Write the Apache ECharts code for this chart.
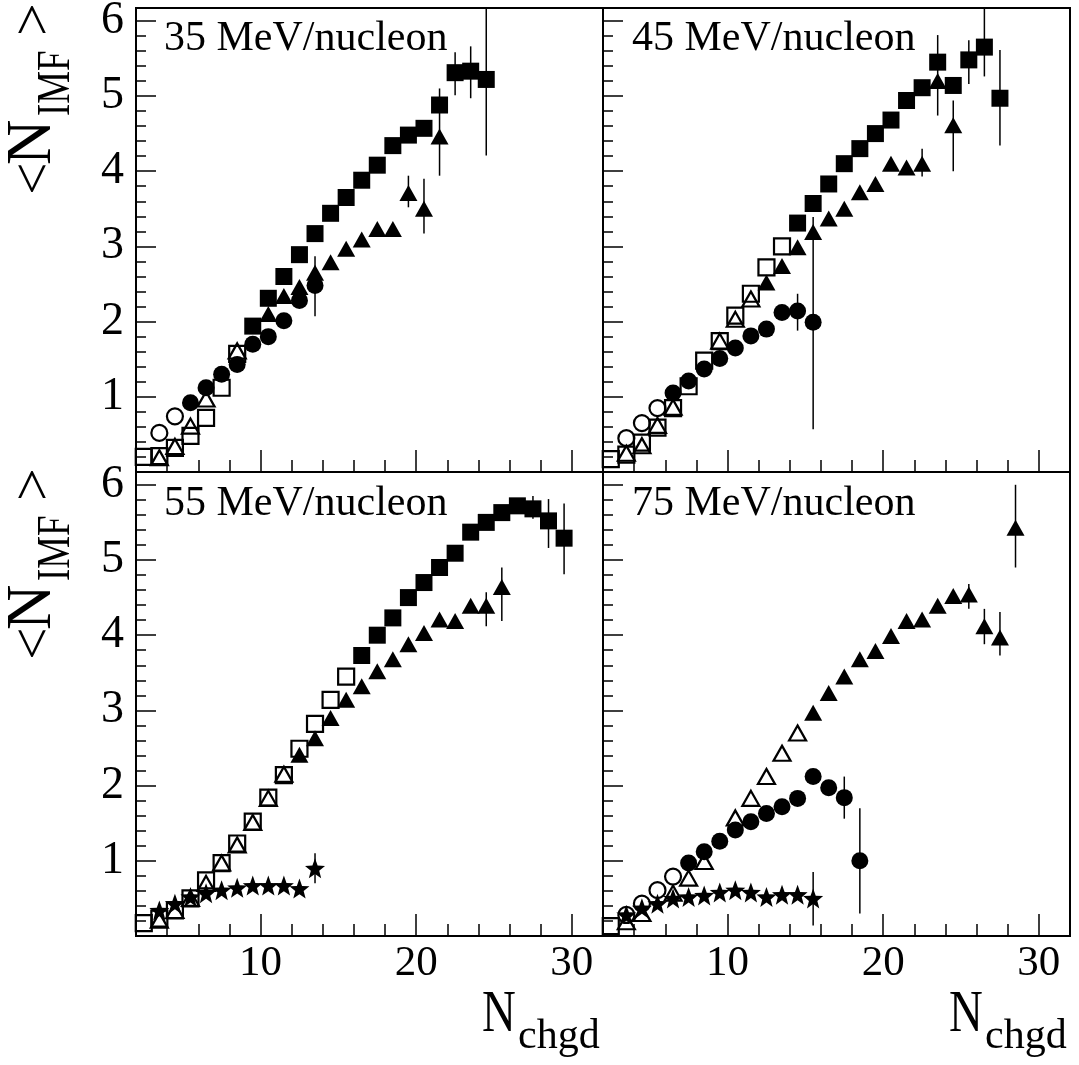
<!DOCTYPE html>
<html><head><meta charset="utf-8">
<script src="https://cdn.jsdelivr.net/npm/echarts@6/dist/echarts.min.js"></script>
<style>html,body{margin:0;padding:0;background:#fff}#c{width:1079px;height:1065px}</style>
</head><body><div id="c"></div>
<script>
// ---------------- DATA ----------------
const panelLabels = ['35 MeV/nucleon', '45 MeV/nucleon', '55 MeV/nucleon', '75 MeV/nucleon'];
const xTickLabels = [10, 20, 30];
const xMinorTicks = [4, 6, 8, 12, 14, 16, 18, 22, 24, 26, 28];
const yTickLabels = [1, 2, 3, 4, 5, 6];
const yMinorTicks = [0.2,0.4,0.6,0.8,1.2,1.4,1.6,1.8,2.2,2.4,2.6,2.8,3.2,3.4,3.6,3.8,4.2,4.4,4.6,4.8,5.2,5.4,5.6,5.8];

// 35 MeV/nucleon
const sq35Filled = [[9.5,1.94],[10.5,2.31],[11.5,2.60],[12.5,2.89],[13.5,3.17],[14.5,3.44],[15.5,3.65],[16.5,3.88],[17.5,4.08],[18.5,4.34],[19.5,4.48],[20.5,4.57],[21.5,4.88],[22.5,5.31],[23.5,5.33],[24.5,5.22]];
const sq35Open = [[2.5,0.20],[3.5,0.21],[4.5,0.32],[5.5,0.48],[6.5,0.72],[7.5,1.12],[8.5,1.57]];
const tri35Open = [[3.5,0.19],[4.5,0.34],[5.5,0.61],[6.5,0.97],[8.5,1.61]];
const circ35Open = [[3.5,0.52],[4.5,0.74]];
const circ35Filled = [[5.5,0.92],[6.5,1.12],[7.5,1.30],[8.5,1.43],[9.5,1.70],[10.5,1.80],[11.5,2.01],[12.5,2.28],[13.5,2.48]];
const tri35Filled = [[10.5,2.10],[11.5,2.34],[12.5,2.46],[13.5,2.65],[14.5,2.79],[15.5,2.97],[16.5,3.09],[17.5,3.23],[18.5,3.23],[19.5,3.71],[20.5,3.50],[21.5,4.46]];
const err35 = [[13.5,2.07,2.87],[19.5,3.52,3.94],[20.5,3.17,3.90],[21.5,3.94,5.10],[22.5,5.01,5.58],[23.5,4.97,5.66],[24.5,4.21,6.20]];

// 45 MeV/nucleon
const sq45Filled = [[14.5,3.31],[15.5,3.57],[16.5,3.83],[17.5,4.10],[18.5,4.30],[19.5,4.50],[20.5,4.68],[21.5,4.94],[22.5,5.11],[23.5,5.45],[24.5,5.14],[25.5,5.48],[26.5,5.65],[27.5,4.97]];
const sq45Open = [[2.5,0.17],[3.5,0.23],[4.5,0.39],[5.5,0.59],[6.5,0.85],[7.5,1.14],[8.5,1.48],[9.5,1.74],[10.5,2.08],[11.5,2.37],[12.5,2.72],[13.5,3.00]];
const tri45Open = [[3.5,0.25],[4.5,0.35],[5.5,0.62],[6.5,0.86],[9.5,1.74],[10.5,2.03],[11.5,2.30]];
const circ45Open = [[3.5,0.45],[4.5,0.65],[5.5,0.85]];
const circ45Filled = [[6.5,1.05],[7.5,1.21],[8.5,1.37],[9.5,1.51],[10.5,1.65],[11.5,1.81],[12.5,1.90],[13.5,2.12],[14.5,2.14],[15.5,1.99]];
const tri45Filled = [[12.5,2.52],[13.5,2.74],[14.5,2.99],[15.5,3.19],[16.5,3.37],[17.5,3.50],[18.5,3.72],[19.5,3.83],[20.5,4.10],[21.5,4.05],[22.5,4.10],[23.5,5.20],[24.5,4.61]];
const err45 = [[14.5,1.88,2.37],[15.5,0.57,3.39],[22.5,3.93,4.30],[23.5,4.74,5.81],[24.5,4.00,4.94],[25.5,5.16,5.74],[26.5,5.26,6.20],[27.5,4.34,5.61]];

// 55 MeV/nucleon
const sq55Filled = [[16.5,3.73],[17.5,4.00],[18.5,4.23],[19.5,4.50],[20.5,4.70],[21.5,4.90],[22.5,5.09],[23.5,5.37],[24.5,5.50],[25.5,5.63],[26.5,5.72],[27.5,5.68],[28.5,5.52],[29.5,5.29]];
const sq55Open = [[2.5,0.17],[3.5,0.23],[4.5,0.34],[5.5,0.50],[6.5,0.74],[7.5,0.97],[8.5,1.23],[9.5,1.52],[10.5,1.84],[11.5,2.14],[12.5,2.49],[13.5,2.82],[14.5,3.14],[15.5,3.45]];
const tri55Open = [[3.5,0.21],[4.5,0.34],[5.5,0.50],[6.5,0.70],[7.5,0.97],[8.5,1.21],[9.5,1.51],[10.5,1.83],[11.5,2.15]];
const tri55Filled = [[12.5,2.41],[13.5,2.63],[14.5,2.90],[15.5,3.14],[16.5,3.32],[17.5,3.52],[18.5,3.68],[19.5,3.88],[20.5,4.03],[21.5,4.21],[22.5,4.19],[23.5,4.39],[24.5,4.39],[25.5,4.64]];
const star55 = [[3.5,0.34],[4.5,0.43],[5.5,0.52],[6.5,0.57],[7.5,0.61],[8.5,0.64],[9.5,0.67],[10.5,0.67],[11.5,0.67],[12.5,0.63],[13.5,0.90]];
const err55 = [[13.5,0.70,1.10],[23.5,4.30,4.46],[24.5,4.12,4.57],[25.5,4.19,4.90],[27.5,5.55,5.85],[28.5,5.16,5.81],[29.5,4.81,5.75]];

// 75 MeV/nucleon
const sq75Open = [[2.5,0.13]];
const tri75Filled = [[15.5,2.97],[16.5,3.23],[17.5,3.45],[18.5,3.68],[19.5,3.79],[20.5,3.99],[21.5,4.19],[22.5,4.21],[23.5,4.39],[24.5,4.52],[25.5,4.54],[26.5,4.12],[27.5,3.97],[28.5,5.43]];
const tri75Open = [[3.5,0.19],[4.5,0.30],[6.5,0.57],[7.5,0.77],[8.5,0.99],[10.5,1.57],[11.5,1.83],[12.5,2.12],[13.5,2.43],[14.5,2.70]];
const circ75Open = [[3.5,0.28],[4.5,0.43],[5.5,0.61],[6.5,0.79]];
const circ75Filled = [[7.5,0.97],[8.5,1.12],[9.5,1.26],[10.5,1.41],[11.5,1.52],[12.5,1.63],[13.5,1.72],[14.5,1.83],[15.5,2.12],[16.5,1.97],[17.5,1.84],[18.5,1.00]];
const star75 = [[3.5,0.28],[4.5,0.37],[5.5,0.43],[6.5,0.50],[7.5,0.52],[8.5,0.54],[9.5,0.58],[10.5,0.61],[11.5,0.58],[12.5,0.52],[13.5,0.55],[14.5,0.55],[15.5,0.50]];
const err75 = [[15.5,0.14,0.85],[17.5,1.56,2.12],[18.5,0.30,1.70],[25.5,4.35,4.68],[26.5,3.88,4.35],[27.5,3.73,4.31],[28.5,4.90,6.00]];

// ---------------- STYLE / LAYOUT ----------------
const FONT = '"Liberation Serif", "Times New Roman", serif';
const STAR = 'path://M50 0 L62.35 33.01 L97.55 34.55 L69.97 56.49 L79.39 90.45 L50 71 L20.61 90.45 L30.03 56.49 L2.45 34.55 L37.65 33.01 Z';
const gridBoxes = [
  {left:136, top:8, width:467, height:464},
  {left:603, top:8, width:467, height:464},
  {left:136, top:472, width:467, height:464},
  {left:603, top:472, width:467, height:464}
];
const X_MIN = 2, X_MAX = 32, Y_MIN = 0, Y_MAX = 6.17;

const grids = gridBoxes.map(b => Object.assign({show:true, borderColor:'#000', borderWidth:2, backgroundColor:'transparent', outerBoundsMode:'none', containLabel:false}, b));
const xAxes = [], yAxes = [];
gridBoxes.forEach((b, p) => {
  const bottomRow = p >= 2, leftCol = p % 2 === 0;
  xAxes.push({type:'value', gridIndex:p, min:X_MIN, max:X_MAX, position:'bottom',
    axisLine:{show:false}, splitLine:{show:false},
    axisTick:{show:true, inside:true, length:22, customValues:xTickLabels, lineStyle:{color:'#000', width:1.5}},
    axisLabel:{show:bottomRow, customValues:xTickLabels, fontFamily:FONT, fontSize:43, color:'#000', margin:6}});
  xAxes.push({type:'value', gridIndex:p, min:X_MIN, max:X_MAX, position:'bottom',
    axisLine:{show:false}, splitLine:{show:false},
    axisTick:{show:true, inside:true, length:12, customValues:xMinorTicks, lineStyle:{color:'#000', width:1.5}},
    axisLabel:{show:false}});
  yAxes.push({type:'value', gridIndex:p, min:Y_MIN, max:Y_MAX, position:'left',
    axisLine:{show:false}, splitLine:{show:false},
    axisTick:{show:true, inside:true, length:20, customValues:yTickLabels, lineStyle:{color:'#000', width:1.5}},
    axisLabel:{show:leftCol, customValues:yTickLabels, fontFamily:FONT, fontSize:46, color:'#000', margin:12}});
  yAxes.push({type:'value', gridIndex:p, min:Y_MIN, max:Y_MAX, position:'left',
    axisLine:{show:false}, splitLine:{show:false},
    axisTick:{show:true, inside:true, length:10, customValues:yMinorTicks, lineStyle:{color:'#000', width:1.5}},
    axisLabel:{show:false}});
});

const MARK = {
  sqF:  {symbol:'rect', size:17, filled:true},
  sqO:  {symbol:'rect', size:16, filled:false},
  triF: {symbol:'triangle', size:[18,16], filled:true},
  triO: {symbol:'triangle', size:[17,15], filled:false},
  cirF: {symbol:'circle', size:17, filled:true},
  cirO: {symbol:'circle', size:16, filled:false},
  star: {symbol:STAR, size:20, filled:true}
};
const series = [];
function scat(p, data, kind, z) {
  const m = MARK[kind];
  series.push({type:'scatter', xAxisIndex:2*p, yAxisIndex:2*p, data:data, symbol:m.symbol, symbolSize:m.size,
    symbolKeepAspect:false, silent:true, z:z, clip:true,
    itemStyle: m.filled ? {color:'#000', opacity:1} : {color:'rgba(0,0,0,0)', borderColor:'#000', borderWidth:2.2, opacity:1}});
}
function errs(p, data) {
  series.push({type:'custom', xAxisIndex:2*p, yAxisIndex:2*p, data:data, silent:true, z:1, clip:true,
    encode:{x:0, y:[1,2]},
    renderItem:(params, api) => {
      const a = api.coord([api.value(0), api.value(1)]);
      const b = api.coord([api.value(0), api.value(2)]);
      return {type:'line', shape:{x1:a[0], y1:a[1], x2:b[0], y2:b[1]}, style:{stroke:'#000', lineWidth:1.5}};
    }});
}
// panel 0 : 35
errs(0, err35);
scat(0, sq35Open, 'sqO', 2); scat(0, tri35Open, 'triO', 3); scat(0, circ35Open, 'cirO', 3);
scat(0, circ35Filled, 'cirF', 4); scat(0, tri35Filled, 'triF', 5); scat(0, sq35Filled, 'sqF', 6);
// panel 1 : 45
errs(1, err45);
scat(1, sq45Open, 'sqO', 2); scat(1, tri45Open, 'triO', 3); scat(1, circ45Open, 'cirO', 3);
scat(1, circ45Filled, 'cirF', 4); scat(1, tri45Filled, 'triF', 5); scat(1, sq45Filled, 'sqF', 6);
// panel 2 : 55
errs(2, err55);
scat(2, sq55Open, 'sqO', 2); scat(2, tri55Open, 'triO', 3);
scat(2, tri55Filled, 'triF', 5); scat(2, sq55Filled, 'sqF', 6); scat(2, star55, 'star', 7);
// panel 3 : 75
errs(3, err75);
scat(3, sq75Open, 'sqO', 2); scat(3, tri75Open, 'triO', 3); scat(3, circ75Open, 'cirO', 3);
scat(3, circ75Filled, 'cirF', 4); scat(3, tri75Filled, 'triF', 5); scat(3, star75, 'star', 7);

// ---------------- TEXT ----------------
const MID = 0.3375; // canvas 'middle' offset above baseline (em)
function txt(x, baseline, text, size, extra) {
  return Object.assign({type:'text', x:x, y:baseline - MID*size,
    style:{text:text, fontFamily:FONT, fontSize:size, fill:'#000', textAlign:'left', textVerticalAlign:'middle', verticalAlign:'middle'}}, extra || {});
}
const graphics = [];
const labelPos = [[164,53],[632,53],[164,518],[632,518]];
panelLabels.forEach((t, i) => graphics.push(txt(labelPos[i][0], labelPos[i][1], t, 42)));
// y titles (rotated)
[195, 660].forEach(y0 => {
  graphics.push({type:'group', x:55, y:y0, rotation:Math.PI/2, children:[
    txt(0, 0, '<', 58),
    txt(30, 0, 'N', 63),
    txt(79, 17, 'IMF', 46, {scaleX:0.8}),
    txt(159, 0, '>', 58)
  ]});
});
// x titles
[482, 949].forEach(x0 => {
  graphics.push(txt(x0, 1035, 'N', 60, {scaleX:0.78}));
  graphics.push(txt(x0 + 36, 1051, 'chgd', 42));
});

const chart = echarts.init(document.getElementById('c'), null, {renderer:'canvas'});
chart.setOption({
  animation:false,
  backgroundColor:'#fff',
  grid:grids, xAxis:xAxes, yAxis:yAxes, series:series, graphic:graphics
});
</script></body></html>
